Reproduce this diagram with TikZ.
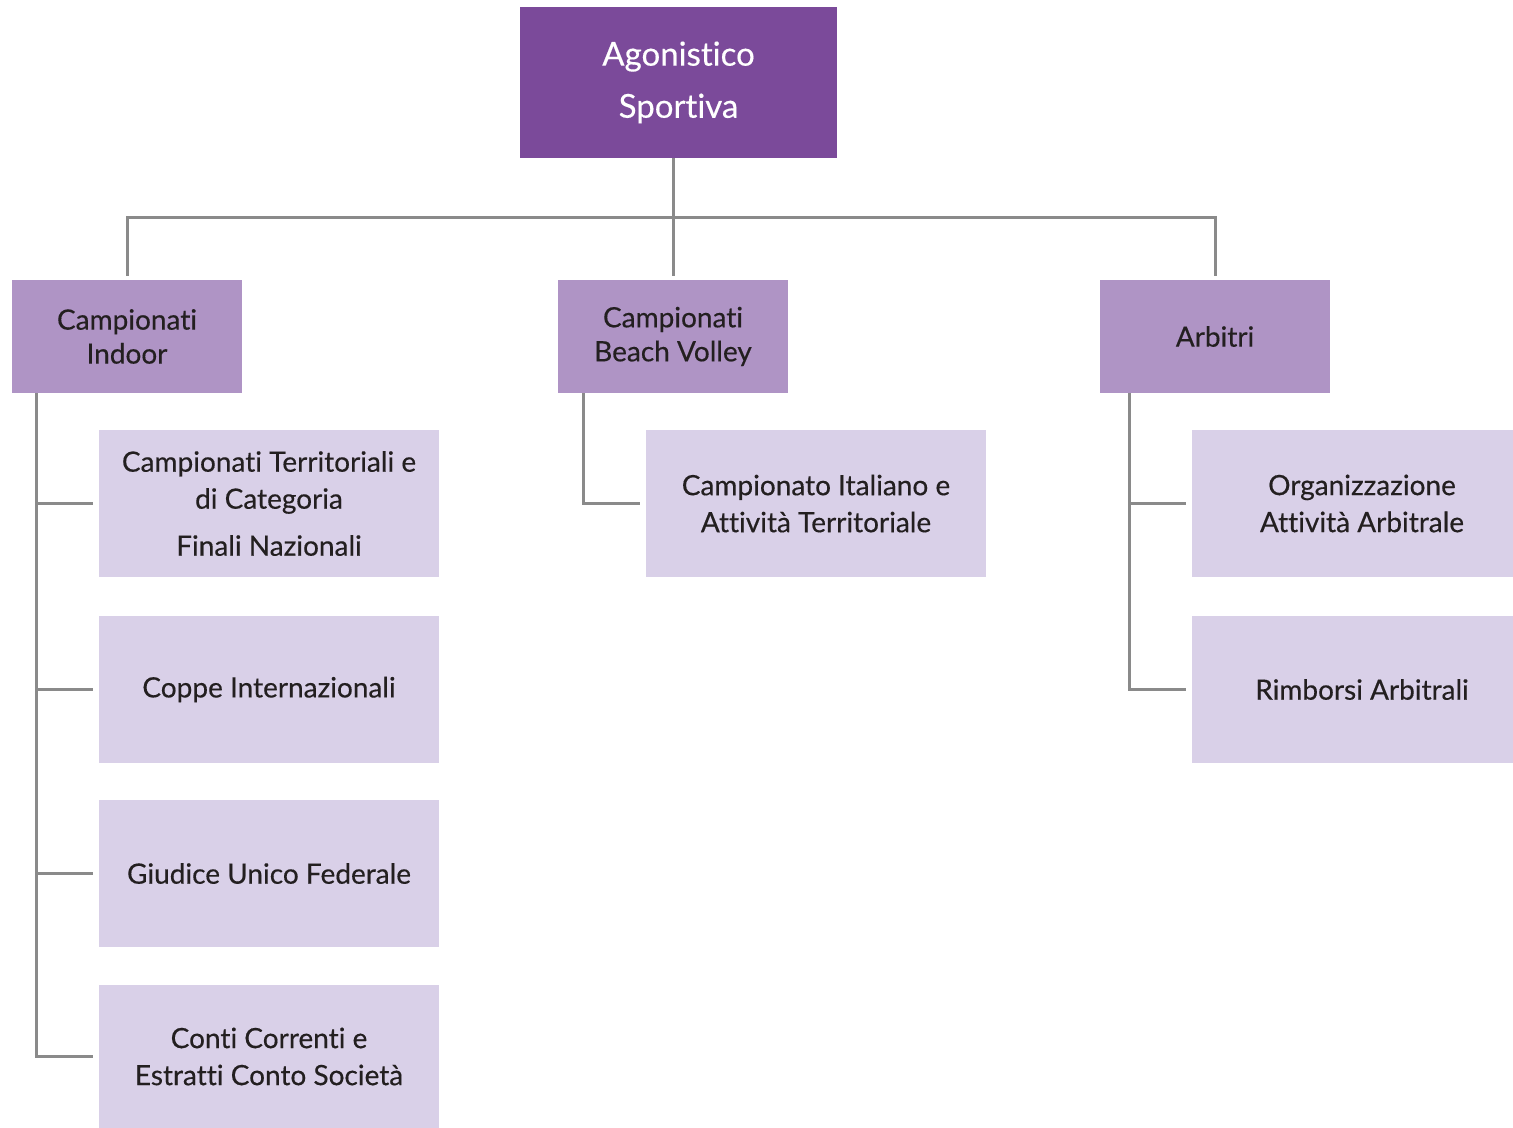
\documentclass[tikz,border=0pt]{standalone}
\usepackage{fontspec}
\setmainfont{Lato}[Ligatures={NoCommon,NoRare,NoDiscretionary}, FakeBold=0.35]
\definecolor{topfill}{HTML}{7B4A9A}
\definecolor{midfill}{HTML}{AF94C5}
\definecolor{lowfill}{HTML}{D9D0E8}
\definecolor{linkgray}{HTML}{8A8A8A}
\definecolor{ink}{HTML}{231F20}
\begin{document}
\begin{tikzpicture}[x=0.5pt,y=-0.5pt,
  box/.style={inner sep=0pt, align=center, anchor=center},
  topbox/.style={box, fill=topfill, text=white, minimum width=158.5pt, minimum height=75.5pt,
    font=\fontsize{16.5}{26}\selectfont},
  midbox/.style={box, fill=midfill, text=ink, minimum width=115pt, minimum height=56.5pt,
    font=\fontsize{14}{17}\selectfont},
  lowbox/.style={box, fill=lowfill, text=ink, minimum width=170pt, minimum height=73.5pt,
    font=\fontsize{14}{18.5}\selectfont},
  link/.style={draw=linkgray, line width=1.5pt}]
\useasboundingbox (0,0) rectangle (1513,1128);

% top level
\node[topbox] (top) at (678.5,82.5) {\raisebox{-2.5pt}{\shortstack{Agonistico\\[8pt]Sportiva}}};

% second level
\node[midbox] (indoor) at (127,336.5) {Campionati\\Indoor};
\node[midbox] (beach) at (673,336.5) {Campionati\\Beach Volley};
\node[midbox] (arbitri) at (1215,336.5) {Arbitri};

% third level under Campionati Indoor
\node[lowbox] (c1) at (269,503.5) {Campionati Territoriali e\\di Categoria\\[5pt]Finali Nazionali};
\node[lowbox] (c2) at (269,689.5) {Coppe Internazionali};
\node[lowbox] (c3) at (269,873.5) {Giudice Unico Federale};
\node[lowbox, minimum height=71.5pt] (c4) at (269,1056.5) {Conti Correnti e\\Estratti Conto Società};

% third level under Campionati Beach Volley
\node[lowbox] (b1) at (816,503.5) {Campionato Italiano e\\Attività Territoriale};

% third level under Arbitri
\node[lowbox] (a1) at (1362,503.5) {Organizzazione\\Attività Arbitrale};
\node[lowbox] (a2) at (1362,689.5) {Rimborsi Arbitrali};

% connectors from the top box
\coordinate (bar) at (0,218);
\draw[link] (top.south -| beach.north) -- ([yshift=2pt]beach.north);
\draw[link] ([yshift=2pt]indoor.north) |- (bar -| beach.north) -| ([yshift=2pt]arbitri.north);

% trunks and branches
\coordinate (ti) at (36,393);
\coordinate (tb) at (583,393);
\coordinate (ta) at (1129,393);
\draw[link] (ti) |- ([xshift=-3pt]c4.west);
\draw[link] (ti |- c1.west) -- ([xshift=-3pt]c1.west);
\draw[link] (ti |- c2.west) -- ([xshift=-3pt]c2.west);
\draw[link] (ti |- c3.west) -- ([xshift=-3pt]c3.west);
\draw[link] (tb) |- ([xshift=-3pt]b1.west);
\draw[link] (ta) |- ([xshift=-3pt]a2.west);
\draw[link] (ta |- a1.west) -- ([xshift=-3pt]a1.west);
\end{tikzpicture}
\end{document}
